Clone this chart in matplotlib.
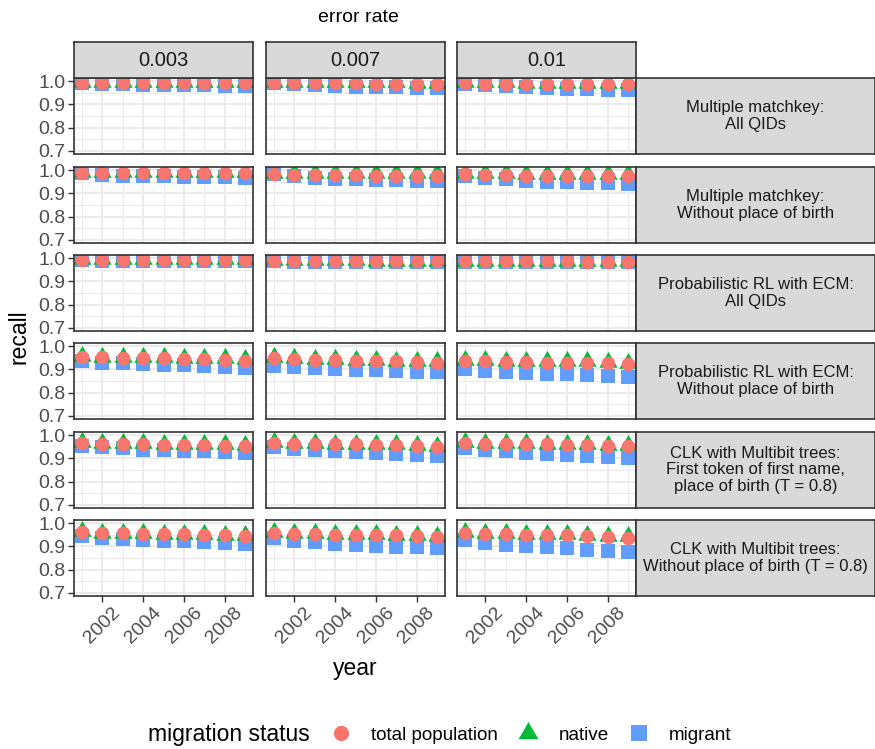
import numpy as np
import matplotlib
matplotlib.use("Agg")
import matplotlib.pyplot as plt
from matplotlib.lines import Line2D

plt.rcParams['font.family'] = ['Liberation Sans', 'DejaVu Sans']

years = np.arange(2001, 2010)
error_rates = ["0.003", "0.007", "0.01"]
methods = [
    "Multiple matchkey:\nAll QIDs",
    "Multiple matchkey:\nWithout place of birth",
    "Probabilistic RL with ECM:\nAll QIDs",
    "Probabilistic RL with ECM:\nWithout place of birth",
    "CLK with Multibit trees:\nFirst token of first name,\nplace of birth (T = 0.8)",
    "CLK with Multibit trees:\nWithout place of birth (T = 0.8)",
]

# one row of yearly values per error rate (0.003, 0.007, 0.01)
total_mm_all = [[0.995, 0.994, 0.994, 0.994, 0.994, 0.993, 0.993, 0.993, 0.993],
                [0.994, 0.993, 0.993, 0.992, 0.992, 0.991, 0.991, 0.990, 0.990],
                [0.992, 0.991, 0.990, 0.990, 0.989, 0.989, 0.989, 0.988, 0.988]]
native_mm_all = [[0.998, 0.998, 0.998, 0.998, 0.998, 0.997, 0.997, 0.997, 0.997],
                 [0.998, 0.997, 0.997, 0.997, 0.996, 0.996, 0.996, 0.995, 0.995],
                 [0.997, 0.996, 0.996, 0.995, 0.995, 0.995, 0.994, 0.994, 0.994]]
migrant_mm_all = [[0.994, 0.991, 0.988, 0.986, 0.985, 0.985, 0.984, 0.982, 0.981],
                  [0.992, 0.989, 0.985, 0.982, 0.978, 0.976, 0.974, 0.972, 0.971],
                  [0.989, 0.984, 0.979, 0.975, 0.972, 0.969, 0.968, 0.965, 0.965]]

total_mm_nopob = [[0.989, 0.989, 0.988, 0.988, 0.988, 0.988, 0.988, 0.988, 0.987],
                  [0.986, 0.981, 0.981, 0.980, 0.979, 0.978, 0.978, 0.978, 0.977],
                  [0.983, 0.980, 0.979, 0.978, 0.977, 0.976, 0.976, 0.975, 0.975]]
native_mm_nopob = [[0.995, 0.995, 0.995, 0.995, 0.994, 0.994, 0.994, 0.994, 0.994],
                   [0.991, 0.989, 0.989, 0.988, 0.988, 0.988, 0.987, 0.987, 0.987],
                   [0.989, 0.987, 0.987, 0.986, 0.986, 0.986, 0.985, 0.985, 0.985]]
migrant_mm_nopob = [[0.988, 0.982, 0.978, 0.975, 0.974, 0.972, 0.972, 0.971, 0.969],
                    [0.984, 0.975, 0.969, 0.965, 0.962, 0.959, 0.959, 0.956, 0.954],
                    [0.975, 0.966, 0.961, 0.955, 0.952, 0.949, 0.946, 0.944, 0.942]]

total_ecm_all = [[0.995, 0.994, 0.994, 0.994, 0.994, 0.994, 0.994, 0.993, 0.993],
                 [0.989, 0.988, 0.988, 0.988, 0.988, 0.987, 0.987, 0.987, 0.987],
                 [0.988, 0.988, 0.987, 0.987, 0.987, 0.987, 0.986, 0.986, 0.986]]
native_ecm_all = [[0.998, 0.998, 0.998, 0.998, 0.998, 0.998, 0.998, 0.997, 0.997],
                  [0.992, 0.992, 0.992, 0.992, 0.992, 0.991, 0.991, 0.991, 0.991],
                  [0.991, 0.991, 0.991, 0.991, 0.990, 0.990, 0.990, 0.990, 0.990]]
migrant_ecm_all = [[0.992, 0.991, 0.991, 0.990, 0.990, 0.990, 0.990, 0.989, 0.989],
                   [0.987, 0.986, 0.986, 0.985, 0.985, 0.985, 0.984, 0.984, 0.984],
                   [0.986, 0.985, 0.985, 0.985, 0.984, 0.984, 0.984, 0.983, 0.983]]

total_ecm_nopob = [[0.956, 0.954, 0.952, 0.951, 0.949, 0.946, 0.945, 0.942, 0.939],
                   [0.950, 0.946, 0.943, 0.940, 0.939, 0.936, 0.935, 0.932, 0.929],
                   [0.936, 0.935, 0.933, 0.932, 0.930, 0.929, 0.928, 0.926, 0.922]]
native_ecm_nopob = [[0.959, 0.956, 0.955, 0.954, 0.954, 0.952, 0.951, 0.948, 0.945],
                    [0.953, 0.949, 0.946, 0.945, 0.942, 0.940, 0.938, 0.936, 0.935],
                    [0.943, 0.940, 0.938, 0.938, 0.936, 0.936, 0.935, 0.932, 0.929]]
migrant_ecm_nopob = [[0.939, 0.930, 0.927, 0.923, 0.920, 0.918, 0.915, 0.912, 0.908],
                     [0.917, 0.910, 0.906, 0.903, 0.899, 0.896, 0.893, 0.890, 0.887],
                     [0.904, 0.894, 0.890, 0.886, 0.881, 0.879, 0.877, 0.873, 0.869]]

total_clk_first = [[0.969, 0.964, 0.963, 0.961, 0.960, 0.959, 0.957, 0.956, 0.953],
                   [0.969, 0.963, 0.963, 0.961, 0.961, 0.960, 0.957, 0.954, 0.951],
                   [0.968, 0.965, 0.964, 0.963, 0.961, 0.960, 0.958, 0.956, 0.953]]
native_clk_first = [[0.973, 0.969, 0.968, 0.966, 0.965, 0.964, 0.962, 0.961, 0.958],
                    [0.973, 0.967, 0.967, 0.965, 0.965, 0.964, 0.961, 0.958, 0.955],
                    [0.972, 0.969, 0.968, 0.967, 0.965, 0.964, 0.962, 0.960, 0.957]]
migrant_clk_first = [[0.955, 0.948, 0.944, 0.939, 0.935, 0.934, 0.932, 0.928, 0.924],
                     [0.949, 0.941, 0.935, 0.932, 0.928, 0.924, 0.919, 0.916, 0.912],
                     [0.946, 0.938, 0.931, 0.925, 0.921, 0.916, 0.912, 0.908, 0.902]]

total_clk_nopob = [[0.961, 0.957, 0.957, 0.956, 0.954, 0.953, 0.951, 0.949, 0.946],
                   [0.959, 0.954, 0.954, 0.951, 0.951, 0.951, 0.949, 0.946, 0.941],
                   [0.957, 0.954, 0.953, 0.950, 0.950, 0.949, 0.946, 0.941, 0.939]]
native_clk_nopob = [[0.966, 0.960, 0.960, 0.957, 0.956, 0.956, 0.953, 0.951, 0.950],
                    [0.962, 0.958, 0.957, 0.955, 0.955, 0.954, 0.952, 0.950, 0.946],
                    [0.961, 0.957, 0.957, 0.954, 0.954, 0.953, 0.951, 0.946, 0.945]]
migrant_clk_nopob = [[0.946, 0.938, 0.934, 0.929, 0.925, 0.922, 0.918, 0.914, 0.911],
                     [0.936, 0.925, 0.918, 0.909, 0.905, 0.902, 0.899, 0.896, 0.892],
                     [0.928, 0.915, 0.908, 0.901, 0.896, 0.892, 0.886, 0.881, 0.875]]

rows = [
    (total_mm_all, native_mm_all, migrant_mm_all),
    (total_mm_nopob, native_mm_nopob, migrant_mm_nopob),
    (total_ecm_all, native_ecm_all, migrant_ecm_all),
    (total_ecm_nopob, native_ecm_nopob, migrant_ecm_nopob),
    (total_clk_first, native_clk_first, migrant_clk_first),
    (total_clk_nopob, native_clk_nopob, migrant_clk_nopob),
]

RED, GREEN, BLUE = "#F8766D", "#00BA38", "#619CFF"
# R style filled triangle (pch 17): tip further from centre than base
TRI = [(0, 1.555), (-1.347, -0.778), (1.347, -0.778), (0, 1.555)]

W, H = 875, 749
fig = plt.figure(figsize=(W / 100, H / 100), dpi=100)


def box(x, y, w, h):
    return [x / W, 1 - (y + h) / H, w / W, h / H]


col_x = [74, 266, 457]
row_y = [78, 167, 255, 343, 432, 520]
pw, ph = 179, 76
tick_fs = 14
big = 16.5

for i, (tot, nat, mig) in enumerate(rows):
    for j in range(3):
        ax = fig.add_axes(box(col_x[j], row_y[i], pw, ph))
        ax.plot(years, mig[j], ls="none", marker="s", ms=9.8, mew=0, color=BLUE)
        ax.plot(years, nat[j], ls="none", marker=TRI, ms=15.2, mew=0, color=GREEN)
        ax.plot(years, tot[j], ls="none", marker="o", ms=9.8, mew=0, color=RED)
        ax.set_xlim(2000.6, 2009.4)
        ax.set_ylim(0.685, 1.015)
        ax.set_xticks([2002, 2004, 2006, 2008])
        ax.set_xticks([2001, 2003, 2005, 2007, 2009], minor=True)
        ax.set_yticks([0.7, 0.8, 0.9, 1.0])
        ax.set_yticks([0.75, 0.85, 0.95], minor=True)
        ax.set_axisbelow(True)
        ax.grid(which="major", color="#EBEBEB", lw=1.4)
        ax.grid(which="minor", color="#EBEBEB", lw=0.8)
        ax.tick_params(which="minor", length=0)
        ax.tick_params(which="major", length=4, width=1, color="#333333",
                       labelsize=tick_fs, labelcolor="#4D4D4D", pad=2)
        for s in ax.spines.values():
            s.set_color("#333333")
            s.set_linewidth(1.2)
        if j == 0:
            ax.set_yticklabels(["0.7", "0.8", "0.9", "1.0"])
        else:
            ax.tick_params(axis="y", left=False, labelleft=False)
        if i < 5:
            ax.tick_params(axis="x", bottom=False, labelbottom=False)
        else:
            ax.set_xticklabels([str(y) for y in [2002, 2004, 2006, 2008]],
                               rotation=45, ha="center")

# strips
for j, lab in enumerate(error_rates):
    s = fig.add_axes(box(col_x[j], 42, pw, 36))
    s.set_facecolor("#D9D9D9")
    s.set_xticks([])
    s.set_yticks([])
    for sp in s.spines.values():
        sp.set_color("#333333")
        sp.set_linewidth(1.2)
    s.text(0.5, 0.5, lab, ha="center", va="center", fontsize=14.5,
           color="#1A1A1A", transform=s.transAxes)

for i, lab in enumerate(methods):
    s = fig.add_axes(box(636, row_y[i], 239, ph))
    s.set_facecolor("#D9D9D9")
    s.set_xticks([])
    s.set_yticks([])
    for sp in s.spines.values():
        sp.set_color("#333333")
        sp.set_linewidth(1.2)
    s.text(0.5, 0.5, lab, ha="center", va="center", fontsize=12,
           color="#1A1A1A", transform=s.transAxes, linespacing=1.1)

fig.text(358 / W, 1 - 18 / H, "error rate", ha="center", va="center", fontsize=14)
fig.text(19 / W, 1 - 337 / H, "recall", ha="center", va="center",
         rotation=90, fontsize=big)
fig.text(355 / W, 1 - 668 / H, "year", ha="center", va="center", fontsize=big)

# legend
fig.text(148 / W, 1 - 735 / H, "migration status", ha="left", va="center", fontsize=big)
handles = [
    Line2D([], [], ls="none", marker="o", ms=11, mew=0, color=RED),
    Line2D([], [], ls="none", marker=TRI, ms=16.5, mew=0, color=GREEN),
    Line2D([], [], ls="none", marker="s", ms=11, mew=0, color=BLUE),
]
fig.legend(handles, ["total population", "native", "migrant"], ncol=3,
           loc="center left", bbox_to_anchor=(315 / W, 1 - 735 / H),
           frameon=False, fontsize=13.6, handlelength=1.0, handletextpad=1.09,
           columnspacing=1.09)

fig.savefig("out.png", dpi=100)
